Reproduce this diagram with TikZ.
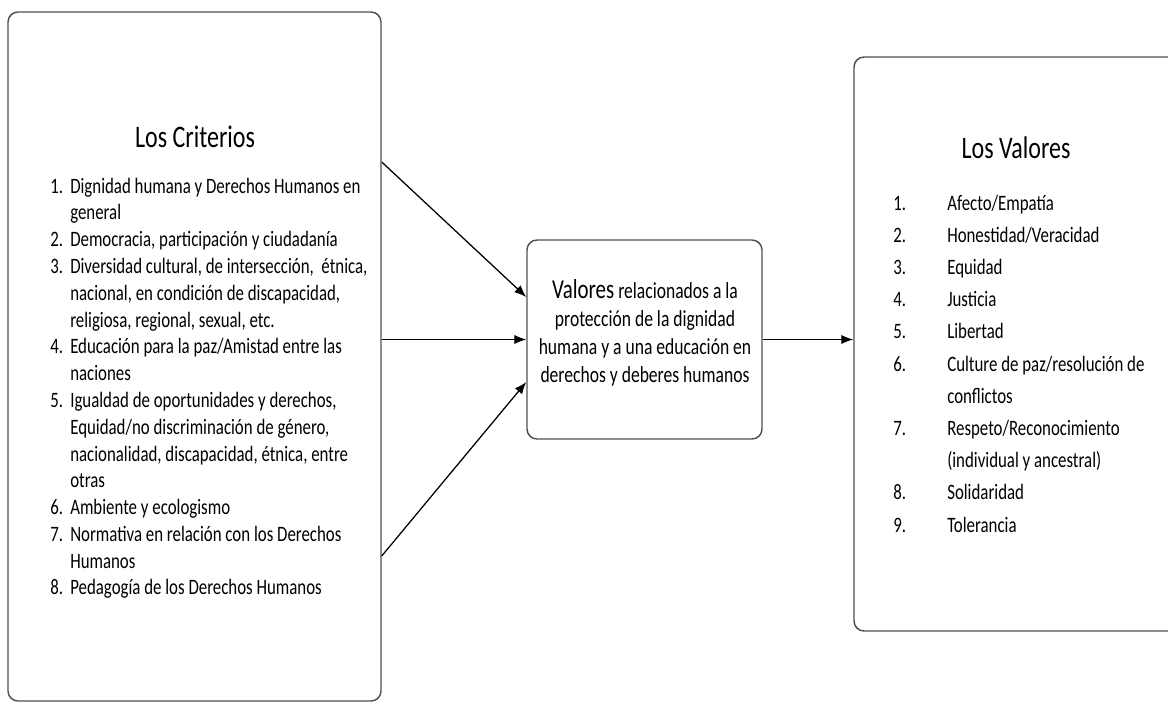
\documentclass[tikz,border=0pt]{standalone}
\usepackage{fontspec}
\setmainfont[FakeStretch=0.766]{Carlito}
\usetikzlibrary{arrows.meta,calc}
\definecolor{boxgray}{HTML}{505050}
\begin{document}
\begin{tikzpicture}[x=0.75pt,y=-0.75pt,
  box/.style={draw=boxgray,line width=1.1pt,rounded corners=7.5pt,inner sep=0pt},
  conn/.style={draw=black,line width=0.95pt,-{Latex[length=9pt,width=7pt]}},
  txt/.style={inner sep=0pt,text=black},
  titlefont/.style={font=\fontsize{23.5}{28}\selectfont},
  leftfont/.style={font=\fontsize{16.5}{20.1}\selectfont},
  midfont/.style={font=\fontsize{17.2}{21}\selectfont},
  rightfont/.style={font=\fontsize{16.5}{24.15}\selectfont}]
\useasboundingbox (0,0) rectangle (1168,703);
\clip (0,0) rectangle (1168,703);
% boxes
\node[box,minimum width=279.75pt,minimum height=516.75pt] (crit) at (194.5,356.5) {};
\node[box,minimum width=176.25pt,minimum height=149.25pt] (val) at (644.5,339.5) {};
\node[box,minimum width=252pt,minimum height=430.5pt] (vals) at (1022,344) {};
% titles
\node[txt,anchor=base,titlefont] (ctitle) at (195,147) {Los Criterios};
\node[txt,anchor=base,titlefont] (vtitle) at (1016,158) {Los Valores};
% left list
\node[txt,anchor=base west,leftfont] (clist) at (50,193) {\begin{tabular}[t]{@{}p{15pt}@{}l@{}}
1. & Dignidad humana y Derechos Humanos en\\
   & general\\
2. & Democracia, participación y ciudadanía\\
3. & Diversidad cultural, de intersección,\ \ étnica,\\
   & nacional, en condición de discapacidad,\\
   & religiosa, regional, sexual, etc.\\
4. & Educación para la paz/Amistad entre las\\
   & naciones\\
5. & Igualdad de oportunidades y derechos,\\
   & Equidad/no discriminación de género,\\
   & nacionalidad, discapacidad, étnica, entre\\
   & otras\\
6. & Ambiente y ecologismo\\
7. & Normativa en relación con los Derechos\\
   & Humanos\\
8. & Pedagogía de los Derechos Humanos
\end{tabular}};
% middle text
\node[txt,anchor=base,midfont] (vtext) at (645,298) {\begin{tabular}[t]{@{}c@{}}
{\fontsize{20.5}{24}\selectfont Valores} relacionados a la\\
protección de la dignidad\\
humana y a una educación en\\
derechos y deberes humanos
\end{tabular}};
% right list
\node[txt,anchor=base west,rightfont] (vlist) at (893,210) {\begin{tabular}[t]{@{}p{40.5pt}@{}l@{}}
1. & Afecto/Empatía\\
2. & Honestidad/Veracidad\\
3. & Equidad\\
4. & Justicia\\
5. & Libertad\\
6. & Culture de paz/resolución de\\
   & conflictos\\
7. & Respeto/Reconocimiento\\
   & (individual y ancestral)\\
8. & Solidaridad\\
9. & Tolerancia
\end{tabular}};
% connectors
\draw[conn] ($(crit.east)+(0,-194.5)$) -- ($(val.west)+(0,-42.5)$);
\draw[conn] (crit.east |- val.west) -- (val.west);
\draw[conn] ($(crit.east)+(0,199.5)$) -- ($(val.west)+(0,42.5)$);
\draw[conn] (val.east) -- (val.east -| vals.west);
\end{tikzpicture}
\end{document}
